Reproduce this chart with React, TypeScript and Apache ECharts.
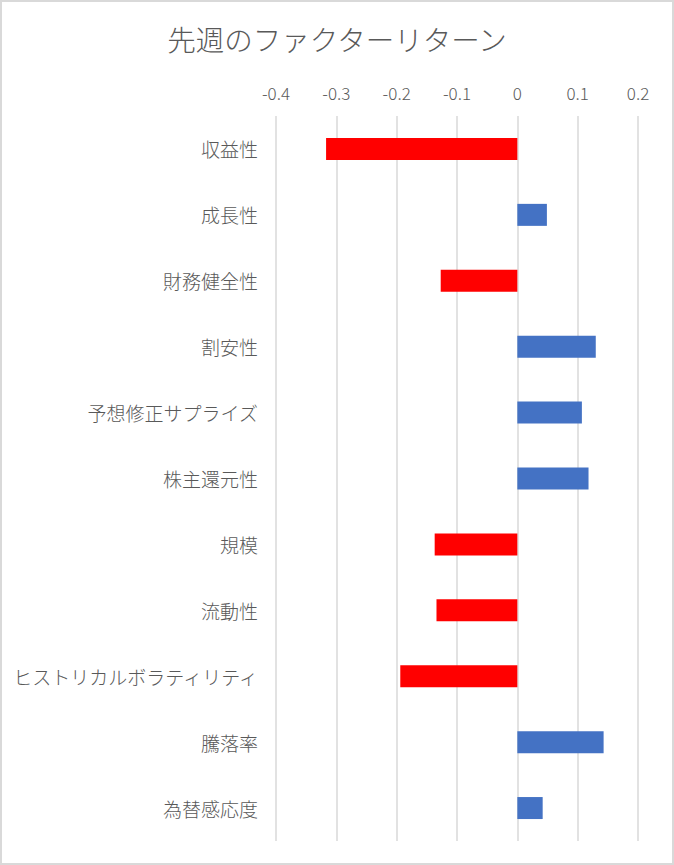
import React, { useEffect, useRef } from 'react';
import * as echarts from 'echarts';

const categories = [
    '収益性',
    '成長性',
    '財務健全性',
    '割安性',
    '予想修正サプライズ',
    '株主還元性',
    '規模',
    '流動性',
    'ヒストリカルボラティリティ',
    '騰落率',
    '為替感応度',
];

const returns = [-0.317, 0.049, -0.127, 0.13, 0.107, 0.118, -0.137, -0.134, -0.194, 0.143, 0.042];

const xTicks = { min: -0.4, max: 0.2, interval: 0.1 };

const FONT = '"Noto Sans CJK JP", "Noto Sans", sans-serif';
const TEXT_GREY = '#595959';

export default function App(): JSX.Element {
    const chartRef = useRef<HTMLDivElement>(null);

    useEffect(() => {
        if (chartRef.current === null) return;
        const chart = echarts.init(chartRef.current, undefined, { renderer: 'svg' });

        const option: echarts.EChartsOption = {
            animation: false,
            backgroundColor: 'transparent',
            title: {
                text: '先週のファクターリターン',
                left: 'center',
                top: 19,
                textStyle: {
                    fontFamily: FONT,
                    fontSize: 28.5,
                    fontWeight: 300,
                    color: TEXT_GREY,
                },
            },
            grid: {
                left: 276,
                right: 674 - 638,
                top: 116,
                bottom: 865 - 841,
                containLabel: false,
            },
            xAxis: {
                type: 'value',
                position: 'top',
                min: xTicks.min,
                max: xTicks.max,
                interval: xTicks.interval,
                axisLine: { show: false },
                axisTick: { show: false },
                axisLabel: {
                    margin: 15,
                    fontFamily: FONT,
                    fontSize: 17,
                    fontWeight: 300,
                    color: TEXT_GREY,
                    formatter: (v: number) => String(Math.round(v * 10) / 10),
                },
                splitLine: { lineStyle: { color: '#d9d9d9', width: 1.5 } },
            },
            yAxis: {
                type: 'category',
                data: categories,
                inverse: true,
                axisLine: { show: false, onZero: false },
                axisTick: { show: false },
                axisLabel: {
                    margin: 18,
                    fontFamily: FONT,
                    fontSize: 19,
                    fontWeight: 300,
                    color: TEXT_GREY,
                },
                splitLine: { show: false },
            },
            series: [
                {
                    type: 'bar',
                    data: returns,
                    barWidth: 22,
                    itemStyle: {
                        color: (p: any) => (p.value < 0 ? '#ff0000' : '#4472c4'),
                    },
                },
            ],
        };

        chart.setOption(option);
        return () => {
            chart.dispose();
        };
    }, []);

    return (
        <div
            style={{
                position: 'fixed',
                left: 0,
                top: 0,
                width: 674,
                height: 865,
                background: '#ffffff',
            }}
        >
            <div
                ref={chartRef}
                style={{ position: 'absolute', left: 0, top: 0, width: 674, height: 865 }}
            />
            <div
                style={{
                    position: 'absolute',
                    left: 0,
                    top: 0,
                    width: 674,
                    height: 865,
                    boxSizing: 'border-box',
                    border: '2px solid #d9d9d9',
                    pointerEvents: 'none',
                }}
            />
        </div>
    );
}
